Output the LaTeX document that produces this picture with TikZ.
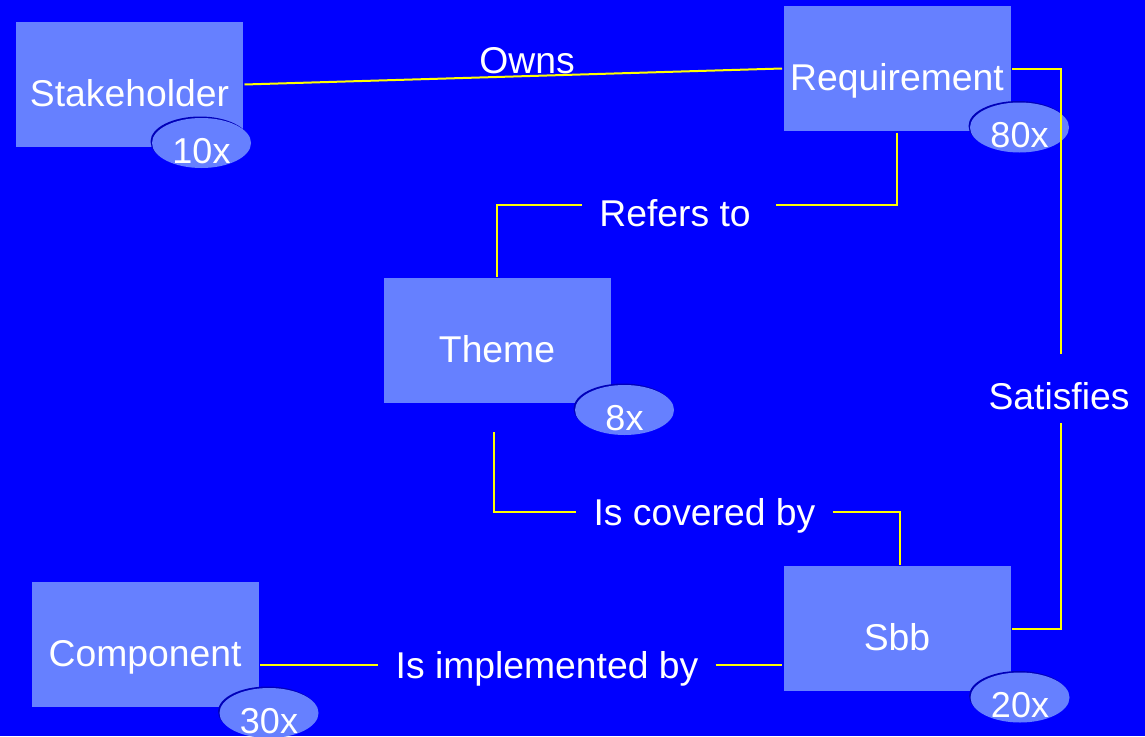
\documentclass[tikz,border=0pt]{standalone}
\usepackage{fontspec}
\setmainfont{Liberation Sans}
\usetikzlibrary{shapes.geometric}
\definecolor{bgblue}{RGB}{0,0,255}
\definecolor{boxblue}{RGB}{102,128,255}
\definecolor{shadeblue}{RGB}{0,0,185}
\definecolor{linkyellow}{RGB}{255,255,0}
\newcommand\entitytext[2]{\raisebox{-#1}[0pt][0pt]{#2}}
\begin{document}
\begin{tikzpicture}[x=1pt,y=-1pt,
  every node/.style={text=white, font=\fontsize{37.3}{41}\selectfont},
  entity/.style={fill=boxblue, minimum width=227pt, minimum height=125pt, inner sep=0pt, outer sep=1.5pt},
  count/.style={ellipse, fill=boxblue, minimum width=99pt, minimum height=50pt, inner sep=0pt,
    font=\fontsize{36}{39}\selectfont,
    preaction={fill=shadeblue, transform canvas={shift={(-1.5pt,1.5pt)}}}},
  rel/.style={text height=27pt, text depth=0pt, inner ysep=0pt, inner xsep=17pt},
  link/.style={draw=linkyellow, line width=2pt}
]
\fill[bgblue] (0,0) rectangle (1145,736);
\useasboundingbox (0,0) rectangle (1145,736);

% entities
\node[entity] (stake) at (129.5,84.5) {\entitytext{22pt}{Stakeholder}};
\node[entity] (req)   at (897,68.5)   {\entitytext{22pt}{Requirement}};
\node[entity] (theme) at (497,340.5)  {\entitytext{22pt}{Theme}};
\node[entity] (comp)  at (145,644.5)  {\entitytext{22pt}{Component}};
\node[entity] (sbb)   at (897,628.5)  {\entitytext{22pt}{Sbb}};

% multiplicities
\node[count] (n10) at (201.5,143)   {\entitytext{20pt}{10x}};
\node[count] (n80) at (1019.5,127.5){\entitytext{20pt}{80x}};
\node[count] (n8)  at (624.5,410)   {\entitytext{20pt}{8x}};
\node[count] (n30) at (269,713)     {\entitytext{20pt}{30x}};
\node[count] (n20) at (1020,697.5)  {\entitytext{20pt}{20x}};

% relation labels
\node[rel, anchor=base] (owns)   at (527,73)  {Owns};
\node[rel, anchor=base] (refers) at (675,226) {Refers to};
\node[rel] (covered) at (704.5,511.5) {Is covered by};
\node[rel] (impl)    at (547,665)     {Is implemented by};
\node[rel, anchor=base, text height=41pt, inner ysep=14pt] (sat) at (1059,409) {Satisfies};

% connectors
\draw[link] (stake.east) -- (req.west);
\draw[link] (req.south) |- ([xshift=8pt,yshift=8pt]refers.east);
\draw[link] ([yshift=8pt]refers.west) -| (theme.north);
\draw[link, shorten <=27.5pt] ([xshift=-3pt]theme.south) |- (covered.west);
\draw[link] (covered.east) -| ([xshift=3pt]sbb.north);
\draw[link] (req.east) -| ([xshift=2pt]sat.north);
\draw[link] ([xshift=2pt]sat.south) |- (sbb.east);
\draw[link] (impl.west -| comp.east) -- (impl.west);
\draw[link] (impl.east) -- (impl.east -| sbb.west);
\end{tikzpicture}
\end{document}
